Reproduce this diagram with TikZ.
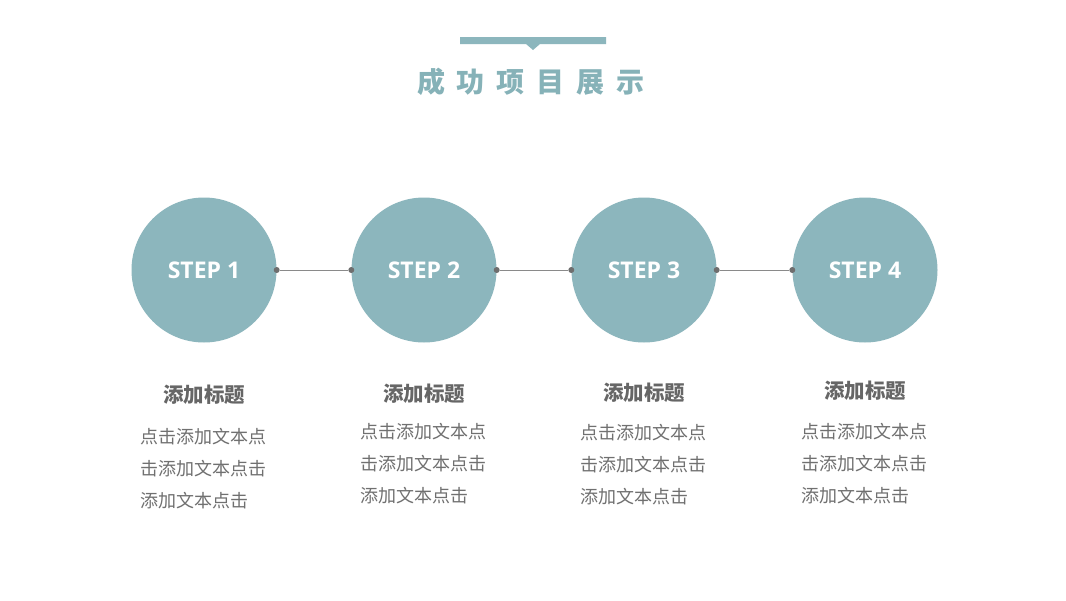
\documentclass[tikz,border=0pt]{standalone}
\usepackage{fontspec}
\newfontfamily\cjk{Noto Sans CJK SC}
\newfontfamily\stepfont{Open Sans}
\definecolor{teal1}{HTML}{8CB6BD}
\definecolor{titlec}{HTML}{86B2B8}
\definecolor{headc}{HTML}{666666}
\definecolor{bodyc}{HTML}{707070}
\definecolor{linec}{HTML}{8A8A8A}
\definecolor{dotc}{HTML}{6E6E6E}
\begin{document}
\begin{tikzpicture}[x=1pt,y=-1pt,
  stepcircle/.style={circle,fill=teal1,minimum size=145pt,inner sep=0pt,text=white,font=\stepfont\bfseries\fontsize{23}{26}\selectfont},
  headtext/.style={text=headc,font=\cjk\bfseries\fontsize{20.5}{24}\selectfont,inner sep=0pt},
  bodytext/.style={text=bodyc,font=\cjk\fontsize{18}{32}\selectfont,inner sep=0pt,align=left,anchor=north west},
  conn/.style={draw=linec,line width=0.9pt},
  enddot/.style={circle,fill=dotc,minimum size=6pt,inner sep=0pt}]
\fill[white] (0,0) rectangle (1066,600);
\useasboundingbox (0,0) rectangle (1066,600);
% title bar
\fill[teal1] (460,37) -- (606,37) -- (606,44) -- (540,44) -- (533,50) -- (526,44) -- (460,44) -- cycle;
\node[text=titlec,font=\cjk\bfseries\fontsize{28}{30}\selectfont,inner sep=0pt] (title) at (531,82) {成\hspace{12pt}功\hspace{12pt}项\hspace{12pt}目\hspace{12pt}展\hspace{12pt}示};
% circles
\node[stepcircle] (s1) at (204,270) {STEP 1};
\node[stepcircle] (s2) at (424,270) {STEP 2};
\node[stepcircle] (s3) at (644,270) {STEP 3};
\node[stepcircle] (s4) at (865,270) {STEP 4};
% connectors
\foreach \a/\b in {s1/s2,s2/s3,s3/s4}{
  \node[enddot] (\a r) at (\a.east) {};
  \node[enddot] (\b l) at (\b.west) {};
  \draw[conn] (\a r) -- (\b l);
}
% headings
\node[headtext] (h1) at (204,395) {添加标题};
\node[headtext] (h2) at (424,394) {添加标题};
\node[headtext] (h3) at (644,393) {添加标题};
\node[headtext] (h4) at (865,391) {添加标题};
% body
\node[bodytext] (b1) at (140,428) {点击添加文本点\\击添加文本点击\\添加文本点击};
\node[bodytext] (b2) at (360,423) {点击添加文本点\\击添加文本点击\\添加文本点击};
\node[bodytext] (b3) at (580,424) {点击添加文本点\\击添加文本点击\\添加文本点击};
\node[bodytext] (b4) at (801,423) {点击添加文本点\\击添加文本点击\\添加文本点击};
\end{tikzpicture}
\end{document}
